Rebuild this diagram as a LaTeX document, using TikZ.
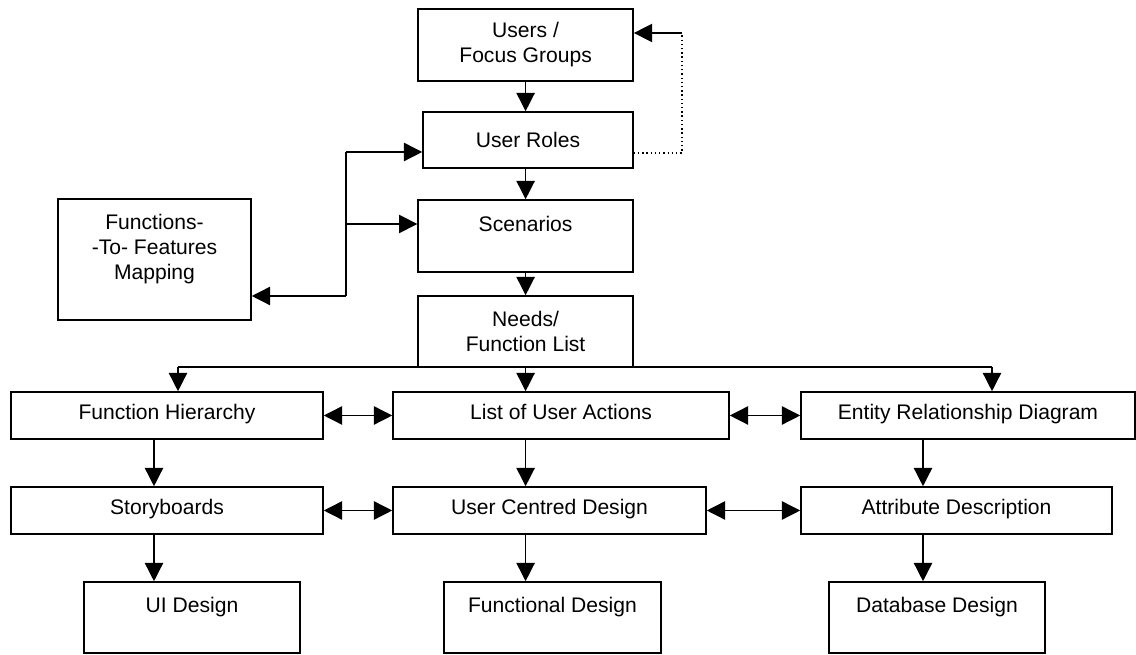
\documentclass[tikz,border=0pt]{standalone}
\usepackage{fontspec}
\setmainfont{Liberation Sans}
\usepackage{tikz}
\usetikzlibrary{arrows.meta, positioning}

\tikzset{
  box/.style={draw, line width=1.1pt, align=center, inner sep=0pt,
    font=\fontsize{15}{17.8}\selectfont},
  wide/.style={box, minimum width=7.8cm, minimum height=1.175cm,
    text height=0.72em, text depth=0.22em},
  tall/.style={box, minimum width=5.4cm, minimum height=1.775cm},
  link/.style={line width=1pt},
}

\begin{document}
\begin{tikzpicture}[>={Triangle[length=13pt,width=13pt]}]
      \useasboundingbox (0,0) rectangle (28.4,16.375);
      % top column
      \node[box, minimum width=5.375cm, minimum height=1.8cm] (users) at (13.14,15.25) {Users /\\Focus Groups};
      \node[box, minimum width=5.25cm, minimum height=1.4cm] (roles) at (13.2,12.875) {User Roles};
      \node[box, minimum width=5.375cm, minimum height=1.8cm] (scen) at (13.14,10.475) {Scenarios\\~};
      \node[box, minimum width=5.375cm, minimum height=1.775cm] (needs) at (13.14,8.0875) {Needs/\\Function List};
      \node[box, minimum width=4.825cm, minimum height=3.025cm] (mapping) at (3.8625,9.8875)
      {Functions-\\-To- Features\\Mapping\\~};
      % middle rows
      \node[wide] (hier) at (4.175,5.9875) {Function Hierarchy};
      \node[wide, minimum width=8.4cm] (actions) at (14.025,5.9875) {List of User Actions};
      \node[wide, minimum width=8.35cm] (erd) at (24.2,5.9875) {Entity Relationship Diagram};
      \node[wide] (story) at (4.175,3.6125) {Storyboards};
      \node[wide, minimum width=7.825cm] (ucd) at (13.7375,3.6125) {User Centred Design};
      \node[wide, minimum width=7.775cm] (attr) at (23.9125,3.6125) {Attribute Description};
      % bottom row
      \node[tall] (ui) at (4.8,0.9375) {UI Design\\~};
      \node[tall, minimum width=5.425cm] (func) at (13.8125,0.9375) {Functional Design\\~};
      \node[tall] (db) at (23.425,0.9375) {Database Design\\~};

      \coordinate (colL) at (3.85,0);
      \coordinate (colR) at (23.075,0);
      \coordinate (busL) at (4.45,7.2);
      \coordinate (busR) at (24.8,7.2);
      \coordinate (jtop) at (8.65,12.575);
      \coordinate (jmid) at (8.65,10.775);
      \coordinate (jbot) at (8.65,8.975);
      \coordinate (fbin) at (17.05,12.55);
      \coordinate (fbk) at (17.05,15.55);

      \draw[link,->] (users.south) -- (users.south |- roles.north);
      \draw[link,->] (scen.north |- roles.south) -- (scen.north);
      \draw[link,->] (scen) -- (needs);
      \draw[link,dotted,line width=1.1pt] (fbin -| roles.east) -- (fbin) -- (fbk);
      \draw[link,->] (fbk) -- (fbk -| users.east);

      \draw[link] (jtop) -- (jbot);
      \draw[link,->] (jtop) -- (jtop -| roles.west);
      \draw[link,->] (jmid) -- (jmid -| scen.west);
      \draw[link,->] (jbot) -- (jbot -| mapping.east);

      \draw[link] (busL) -- (busR);
      \draw[link,->] (busL) -- (busL |- hier.north);
      \draw[link,->] (needs.south) -- (needs.south |- actions.north);
      \draw[link,->] (busR) -- (busR |- erd.north);

      \draw[link,<->] (hier) -- (actions);
      \draw[link,<->] (actions) -- (erd);
      \draw[link,<->] (story) -- (ucd);
      \draw[link,<->] (ucd) -- (attr);

      \draw[link,->] (hier.south -| colL) -- (story.north -| colL);
      \draw[link,->] (actions.south -| needs) -- (ucd.north -| needs);
      \draw[link,->] (erd.south -| colR) -- (attr.north -| colR);
      \draw[link,->] (story.south -| colL) -- (ui.north -| colL);
      \draw[link,->] (ucd.south -| needs) -- (func.north -| needs);
      \draw[link,->] (attr.south -| colR) -- (db.north -| colR);
    \end{tikzpicture}
\end{document}
